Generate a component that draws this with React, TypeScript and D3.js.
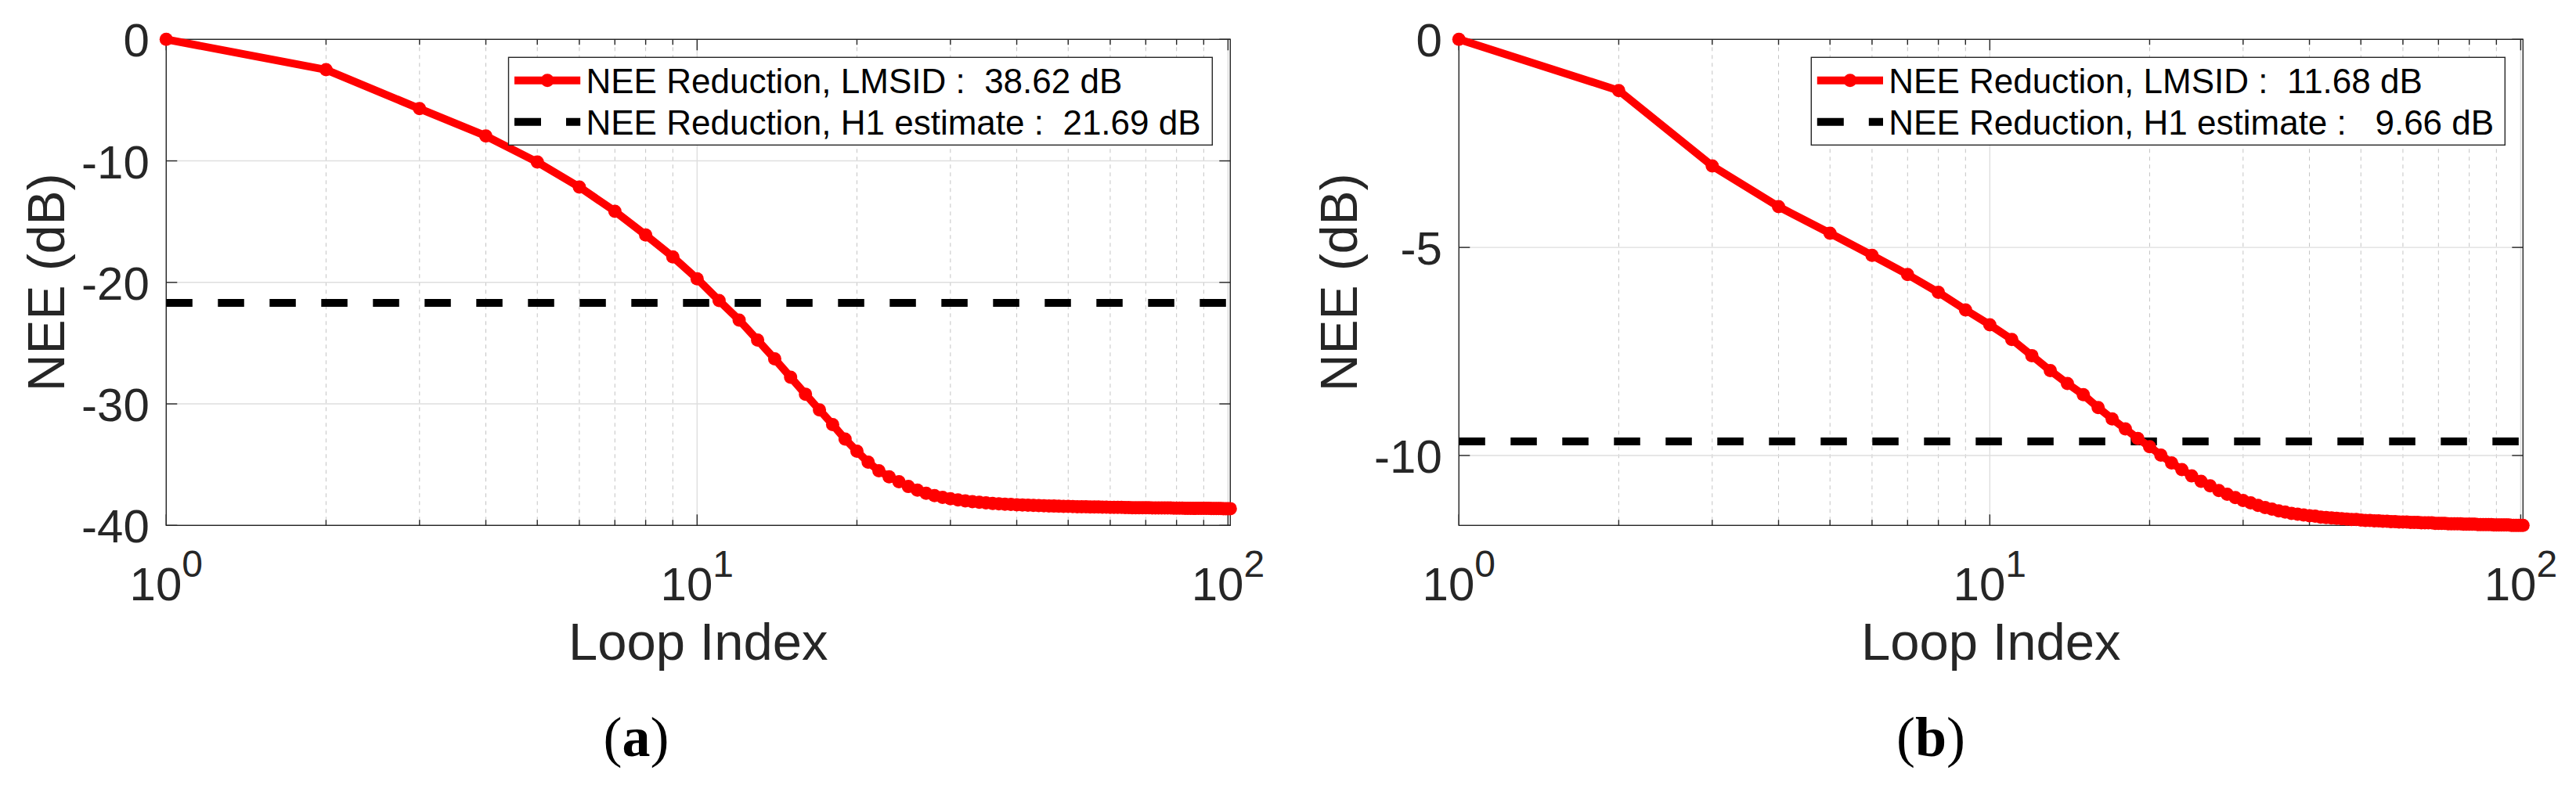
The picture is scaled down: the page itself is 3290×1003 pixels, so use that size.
import React from "react";
import * as d3 from "d3";

// ---------------- DATA ----------------
const loopIndex: number[] = d3.range(1, 102);

const neeLmsidA: number[] = [
  0, -2.5, -5.7, -7.95, -10.1, -12.15, -14.15, -16.1, -17.9, -19.7,
  -21.5, -23.1, -24.75, -26.3, -27.8, -29.2, -30.5, -31.7, -32.9, -33.9,
  -34.8, -35.5, -36.0, -36.4, -36.8, -37.1, -37.35, -37.55, -37.7, -37.8,
  -37.9, -37.98, -38.05, -38.1, -38.15, -38.19, -38.22, -38.25, -38.28, -38.3,
  -38.32, -38.34, -38.35, -38.37, -38.38, -38.4, -38.41, -38.42, -38.43, -38.44,
  -38.45, -38.46, -38.47, -38.47, -38.48, -38.49, -38.49, -38.5, -38.5, -38.51,
  -38.51, -38.52, -38.52, -38.53, -38.53, -38.54, -38.54, -38.54, -38.55, -38.55,
  -38.55, -38.56, -38.56, -38.56, -38.57, -38.57, -38.57, -38.57, -38.58, -38.58,
  -38.58, -38.58, -38.59, -38.59, -38.59, -38.59, -38.6, -38.6, -38.6, -38.6,
  -38.6, -38.6, -38.61, -38.61, -38.61, -38.61, -38.61, -38.62, -38.62, -38.62,
  -38.62,
];

const neeLmsidB: number[] = [
  0, -1.23, -3.04, -4.02, -4.66, -5.19, -5.65, -6.08, -6.5, -6.86,
  -7.21, -7.6, -7.96, -8.27, -8.54, -8.85, -9.12, -9.36, -9.59, -9.79,
  -9.99, -10.18, -10.34, -10.49, -10.62, -10.73, -10.84, -10.93, -11.01, -11.08,
  -11.14, -11.2, -11.25, -11.29, -11.33, -11.36, -11.39, -11.41, -11.43, -11.45,
  -11.46, -11.48, -11.49, -11.5, -11.51, -11.52, -11.53, -11.54, -11.54, -11.55,
  -11.56, -11.56, -11.57, -11.57, -11.58, -11.58, -11.59, -11.59, -11.6, -11.6,
  -11.6, -11.61, -11.61, -11.61, -11.62, -11.62, -11.62, -11.62, -11.63, -11.63,
  -11.63, -11.63, -11.64, -11.64, -11.64, -11.64, -11.64, -11.65, -11.65, -11.65,
  -11.65, -11.65, -11.66, -11.66, -11.66, -11.66, -11.66, -11.66, -11.67, -11.67,
  -11.67, -11.67, -11.67, -11.67, -11.67, -11.68, -11.68, -11.68, -11.68, -11.68,
  -11.68,
];

const h1EstimateA = -21.69;
const h1EstimateB = -9.66;

const yTicksA: number[] = [0, -10, -20, -30, -40];
const yTicksB: number[] = [0, -5, -10];
const yDomainA: [number, number] = [-40, 0];
const yDomainB: [number, number] = [-11.68, 0];

const xDomain: [number, number] = [1, 101];
const xMajorTicks: number[] = [1, 10, 100];
const xMajorExp: string[] = ["0", "1", "2"];
const xMinorTicks: number[] = [2, 3, 4, 5, 6, 7, 8, 9, 20, 30, 40, 50, 60, 70, 80, 90];

const legendA: string[] = [
  "NEE Reduction, LMSID :  38.62 dB",
  "NEE Reduction, H1 estimate :  21.69 dB",
];
const legendB: string[] = [
  "NEE Reduction, LMSID :  11.68 dB",
  "NEE Reduction, H1 estimate :   9.66 dB",
];

const xLabel = "Loop Index";
const yLabel = "NEE (dB)";
const captions: string[] = ["a", "b"];

// ---------------- LAYOUT ----------------
const W = 3290;
const H = 1003;
const TOP = 50.3;
const BOTTOM = 671.3;
const SANS = "'Liberation Sans', Arial, Helvetica, sans-serif";
const SERIF = "'Liberation Serif', 'Times New Roman', serif";
const AX = "#262626";

type PanelCfg = {
  left: number;
  right: number;
  values: number[];
  h1: number;
  yDomain: [number, number];
  yTicks: number[];
  legend: string[];
  legendWidth: number;
  caption: string;
  captionX: number;
};

const panels: PanelCfg[] = [
  {
    left: 212.3,
    right: 1571.3,
    values: neeLmsidA,
    h1: h1EstimateA,
    yDomain: yDomainA,
    yTicks: yTicksA,
    legend: legendA,
    legendWidth: 898.8,
    caption: captions[0],
    captionX: 812.5,
  },
  {
    left: 1863.3,
    right: 3222.3,
    values: neeLmsidB,
    h1: h1EstimateB,
    yDomain: yDomainB,
    yTicks: yTicksB,
    legend: legendB,
    legendWidth: 886,
    caption: captions[1],
    captionX: 2466,
  },
];

function Panel({ cfg }: { cfg: PanelCfg }) {
  const x = d3.scaleLog().domain(xDomain).range([cfg.left, cfg.right]);
  const y = d3.scaleLinear().domain(cfg.yDomain).range([BOTTOM, TOP]);
  const line = d3
    .line<number>()
    .x((_, i) => x(loopIndex[i]))
    .y((d) => y(d));
  const pts = cfg.values.map((v, i) => [x(loopIndex[i]), y(v)]);

  const legRight = cfg.right - 23;
  const legLeft = legRight - cfg.legendWidth;
  const legTop = 73.3;
  const legBottom = 185.3;
  const row1 = 102.7;
  const row2 = 155.7;
  const sampleL = legLeft + 7.5;
  const sampleR = legLeft + 91.7;

  return (
    <g>
      {/* grid: minor x (dashed) */}
      {xMinorTicks.map((t) => (
        <line
          key={"mg" + t}
          x1={x(t)}
          x2={x(t)}
          y1={TOP}
          y2={BOTTOM}
          stroke="#c4c4c4"
          strokeWidth={1}
          strokeDasharray="5,5"
        />
      ))}
      {/* grid: major x */}
      {xMajorTicks.map((t) => (
        <line key={"Mg" + t} x1={x(t)} x2={x(t)} y1={TOP} y2={BOTTOM} stroke="#dedede" strokeWidth={1.4} />
      ))}
      {/* grid: major y */}
      {cfg.yTicks.map((t) => (
        <line key={"yg" + t} x1={cfg.left} x2={cfg.right} y1={y(t)} y2={y(t)} stroke="#dedede" strokeWidth={1.4} />
      ))}

      {/* axes box */}
      <rect
        x={cfg.left}
        y={TOP}
        width={cfg.right - cfg.left}
        height={BOTTOM - TOP}
        fill="none"
        stroke={AX}
        strokeWidth={1.4}
      />
      {/* y ticks both sides */}
      {cfg.yTicks.map((t) => (
        <g key={"yt" + t}>
          <line x1={cfg.left} x2={cfg.left + 14} y1={y(t)} y2={y(t)} stroke={AX} strokeWidth={1.4} />
          <line x1={cfg.right} x2={cfg.right - 14} y1={y(t)} y2={y(t)} stroke={AX} strokeWidth={1.4} />
          <text
            x={cfg.left - 21.5}
            y={y(t) + 22}
            textAnchor="end"
            fontFamily={SANS}
            fontSize={60}
            fill={AX}
          >
            {t}
          </text>
        </g>
      ))}
      {/* x ticks */}
      {xMajorTicks.map((t) => (
        <g key={"xt" + t}>
          <line x1={x(t)} x2={x(t)} y1={BOTTOM} y2={BOTTOM - 14} stroke={AX} strokeWidth={1.4} />
          <line x1={x(t)} x2={x(t)} y1={TOP} y2={TOP + 14} stroke={AX} strokeWidth={1.4} />
        </g>
      ))}
      {xMinorTicks.map((t) => (
        <g key={"xm" + t}>
          <line x1={x(t)} x2={x(t)} y1={BOTTOM} y2={BOTTOM - 7} stroke={AX} strokeWidth={1.4} />
          <line x1={x(t)} x2={x(t)} y1={TOP} y2={TOP + 7} stroke={AX} strokeWidth={1.4} />
        </g>
      ))}
      {xMajorTicks.map((t, i) => (
        <text
          key={"xl" + t}
          x={x(t)}
          y={766.7}
          textAnchor="middle"
          fontFamily={SANS}
          fontSize={60}
          fill={AX}
        >
          10
          <tspan dy={-30} fontSize={48}>
            {xMajorExp[i]}
          </tspan>
        </text>
      ))}

      {/* H1 estimate dashed line */}
      <line
        x1={cfg.left}
        x2={cfg.right}
        y1={y(cfg.h1)}
        y2={y(cfg.h1)}
        stroke="#000"
        strokeWidth={10}
        strokeDasharray="33.5,32.5"
      />
      {/* LMSID curve */}
      <path d={line(cfg.values) || ""} fill="none" stroke="#ff0000" strokeWidth={10} strokeLinejoin="round" />
      {pts.map((p, i) => (
        <circle key={"p" + i} cx={p[0]} cy={p[1]} r={8.5} fill="#ff0000" />
      ))}

      {/* legend */}
      <rect
        x={legLeft}
        y={legTop}
        width={legRight - legLeft}
        height={legBottom - legTop}
        fill="#fff"
        stroke={AX}
        strokeWidth={1.4}
      />
      <line x1={sampleL} x2={sampleR} y1={row1} y2={row1} stroke="#ff0000" strokeWidth={10} />
      <circle cx={(sampleL + sampleR) / 2} cy={row1} r={8.5} fill="#ff0000" />
      <line
        x1={sampleL}
        x2={sampleR}
        y1={row2}
        y2={row2}
        stroke="#000"
        strokeWidth={10}
        strokeDasharray="34,32"
      />
      {cfg.legend.map((s, i) => (
        <text
          key={"lg" + i}
          x={legLeft + 99}
          y={(i === 0 ? row1 : row2) + 16}
          fontFamily={SANS}
          fontSize={44}
          fill="#000"
          style={{ whiteSpace: "pre" }}
        >
          {s}
        </text>
      ))}

      {/* axis labels */}
      <text
        transform={`translate(${cfg.left - 130.6},${(TOP + BOTTOM) / 2}) rotate(-90)`}
        textAnchor="middle"
        fontFamily={SANS}
        fontSize={66}
        fill={AX}
      >
        {yLabel}
      </text>
      <text
        x={(cfg.left + cfg.right) / 2}
        y={842.7}
        textAnchor="middle"
        fontFamily={SANS}
        fontSize={67}
        fill={AX}
      >
        {xLabel}
      </text>

      {/* caption */}
      <text x={cfg.captionX} y={966} textAnchor="middle" fontFamily={SERIF} fontSize={72} fill="#000">
        (<tspan fontWeight="bold">{cfg.caption}</tspan>)
      </text>
    </g>
  );
}

export default function App() {
  return (
    <svg
      width={W}
      height={H}
      viewBox={`0 0 ${W} ${H}`}
      style={{ position: "absolute", left: 0, top: 0, background: "#fff" }}
    >
      <rect x={0} y={0} width={W} height={H} fill="#fff" />
      {panels.map((p, i) => (
        <Panel key={i} cfg={p} />
      ))}
    </svg>
  );
}
